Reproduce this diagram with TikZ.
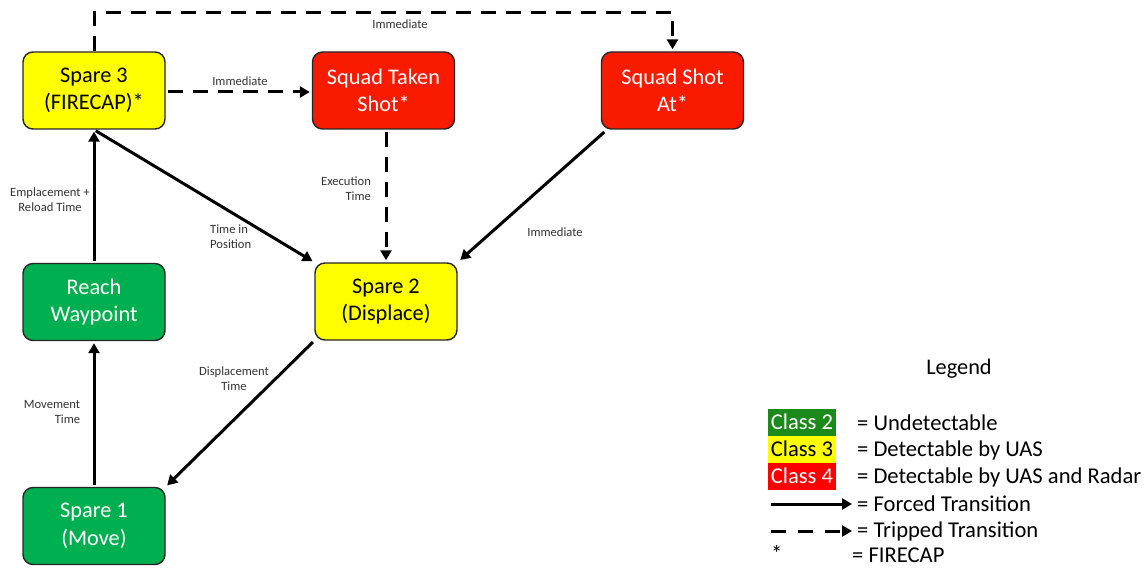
\documentclass[tikz,border=0pt]{standalone}
\usepackage{fontspec}
\setmainfont{Carlito}
\usetikzlibrary{arrows.meta,calc}
\definecolor{cyel}{HTML}{FFFF00}
\definecolor{cred}{HTML}{F81B00}
\definecolor{cgrn}{HTML}{00B050}
\definecolor{lgrn}{HTML}{1B8A1B}
\definecolor{lred}{HTML}{FF0000}
\definecolor{lbl}{HTML}{333333}
\begin{document}
\begin{tikzpicture}[x=1pt,y=-1pt,
  state/.style={rectangle,rounded corners=10pt,draw=black!85,line width=1.4pt,
    minimum width=142pt,minimum height=77pt,align=center,inner sep=0pt,
    font=\fontsize{22.3}{27.5}\selectfont},
  yel/.style={state,fill=cyel,text=black},
  red/.style={state,fill=cred,text=white},
  grn/.style={state,fill=cgrn,text=white},
  forced/.style={line width=3pt,-{Triangle[length=10pt,width=11pt]},shorten >=2pt,shorten <=2pt},
  tripped/.style={forced,dash pattern=on 15pt off 10pt},
  lab/.style={font=\fontsize{12.6}{15}\selectfont,text=lbl,inner sep=0pt},
  leg/.style={font=\fontsize{22.6}{26}\selectfont,anchor=west,inner sep=0pt},
  legbox/.style={minimum width=68pt,minimum height=27pt,inner sep=0pt,font=\fontsize{22.6}{26}\selectfont}
]
\useasboundingbox (0,0) rectangle (1145,569);

\node[yel] (s3) at (94,90.5) {Spare 3\\(FIRECAP)*};
\node[red] (sts) at (383.5,90.5) {Squad Taken\\Shot*};
\node[red] (ssa) at (672.5,90.5) {Squad Shot\\At*};
\node[grn] (rw) at (94,302) {Reach\\Waypoint};
\node[yel] (s2) at (386,301.5) {Spare 2\\(Displace)};
\node[grn] (s1) at (94,526) {Spare 1\\(Move)};

\coordinate (topy) at (0,13);
\draw[tripped,shorten <=0pt] (s3.north) -- (s3.north |- topy) -| (ssa.north);
\draw[tripped] (s3.east |- 0,92) -- (sts.west |- 0,92);
\draw[tripped] (sts.south -| 386,0) -- (s2.north);
\draw[forced] ($(ssa.south west)+(5,1)$) -- ($(s2.north east)+(1,-1)$);
\draw[forced] (s3.south) -- (s2.north west);
\draw[forced] (rw.north) -- (s3.south);
\draw[forced] (s1.north) -- (rw.south);
\draw[forced] (s2.south west) -- (s1.north east);

\node[lab] (l1) at (400,24) {Immediate};
\node[lab] (l2) at (240,81) {Immediate};
\node[lab,align=right] (l3) at (346,189) {Execution\\Time};
\node[lab,align=center] (l4) at (50,200) {Emplacement +\\Reload Time};
\node[lab,align=left,anchor=west] (l5) at (210,237) {Time in\\Position};
\node[lab] (l6) at (555,232) {Immediate};
\node[lab,align=center] (l7) at (234,379) {Displacement\\Time};
\node[lab,align=right] (l8) at (52,412) {Movement\\Time};

\node[font=\fontsize{22.3}{26}\selectfont,inner sep=0pt] (lg) at (959,369) {Legend};
\node[legbox,fill=lgrn,text=white] (c2) at (802,422) {Class 2};
\node[legbox,fill=cyel,text=black] (c3) at (802,449) {Class 3};
\node[legbox,fill=lred,text=white] (c4) at (802,476) {Class 4};
\node[leg] (t2) at (857,423) {= Undetectable};
\node[leg] (t3) at (857,450) {= Detectable by UAS};
\node[leg] (t4) at (857,477) {= Detectable by UAS and Radar};
\coordinate (fa) at (771,504);
\coordinate (fb) at (852,504);
\coordinate (ta) at (771,531);
\coordinate (tb) at (852,531);
\draw[forced,shorten >=0pt,shorten <=0pt] (fa) -- (fb);
\draw[tripped,shorten >=0pt,shorten <=0pt,dash pattern=on 15pt off 12pt] (ta) -- (tb);
\node[leg] (t5) at (857,504) {= Forced Transition};
\node[leg] (t6) at (857,531) {= Tripped Transition};
\node[leg] (st) at (771,553) {*};
\node[leg] (t7) at (852,555) {= FIRECAP};
\end{tikzpicture}
\end{document}
